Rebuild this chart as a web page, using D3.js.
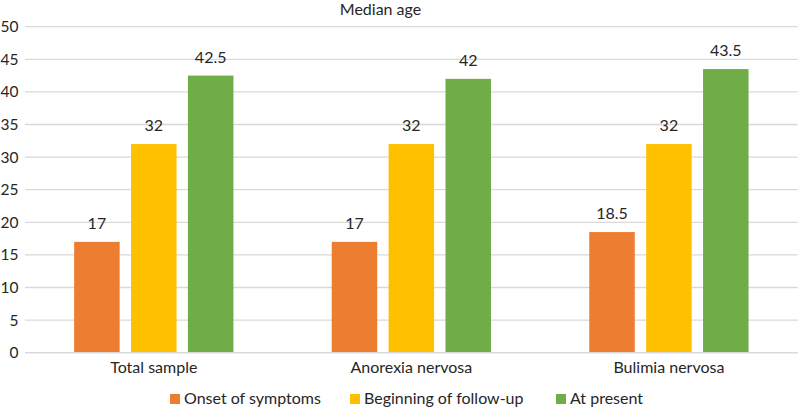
<!DOCTYPE html>
<html>
<head>
<meta charset="utf-8">
<script src="https://cdn.jsdelivr.net/npm/d3@7"></script>
<style>
  html, body { margin: 0; padding: 0; background: #fff; }
  svg { display: block; font-family: Lato, "Open Sans", sans-serif; }
</style>
</head>
<body>
<svg id="chart" width="800" height="409"></svg>
<script>
const categories = ["Total sample", "Anorexia nervosa", "Bulimia nervosa"];
const seriesNames = ["Onset of symptoms", "Beginning of follow-up", "At present"];
const onsetValues = [17, 17, 18.5];
const beginningValues = [32, 32, 32];
const presentValues = [42.5, 42, 43.5];
const yTicks = [0, 5, 10, 15, 20, 25, 30, 35, 40, 45, 50];
const colors = ["#ED7D31", "#FFC000", "#70AD47"];
const chartTitle = "Median age";

(function () {
const seriesValues = [onsetValues, beginningValues, presentValues];

const svg = d3.select("#chart");
const pLeft = 25, pRight = 797.7, pTop = 26.7, pBottom = 352.7;
const fs = 16;
const textColor = "#262626";

const x0 = d3.scaleBand().domain(categories).range([pLeft, pRight])
  .paddingInner(0.3816).paddingOuter(0.1908);
const x1 = d3.scaleBand().domain(seriesNames).range([0, x0.bandwidth()])
  .paddingInner(0.2).paddingOuter(0);
const y = d3.scaleLinear().domain([0, 50]).range([pBottom, pTop]);

// gridlines
svg.append("g").selectAll("line").data(yTicks).join("line")
  .attr("x1", pLeft).attr("x2", pRight)
  .attr("y1", d => y(d)).attr("y2", d => y(d))
  .attr("stroke", "#d9d9d9").attr("stroke-width", 1.3);

// y axis labels
const yAxis = d3.axisLeft(y).tickValues(yTicks).tickSize(0).tickPadding(0);
const yg = svg.append("g").attr("transform", `translate(18.5,0)`).call(yAxis);
yg.select(".domain").remove();
yg.selectAll("text").attr("font-size", 15.5).attr("fill", textColor)
  .attr("font-family", "Lato, 'Open Sans', sans-serif");

// bars
const groups = svg.append("g").selectAll("g").data(categories).join("g")
  .attr("transform", d => `translate(${x0(d)},0)`);

groups.each(function(cat, ci) {
  const g = d3.select(this);
  seriesNames.forEach((s, si) => {
    const v = seriesValues[si][ci];
    g.append("rect")
      .attr("x", x1(s)).attr("width", x1.bandwidth())
      .attr("y", y(v)).attr("height", y(0) - y(v))
      .attr("fill", colors[si]);
    g.append("text")
      .attr("x", x1(s) + x1.bandwidth() / 2)
      .attr("y", y(v) - 13)
      .attr("text-anchor", "middle")
      .attr("font-size", fs).attr("fill", textColor)
      .text(v);
  });
});

// x axis line
svg.append("line").attr("x1", pLeft).attr("x2", pRight)
  .attr("y1", y(0)).attr("y2", y(0))
  .attr("stroke", "#d9d9d9").attr("stroke-width", 1.3);

// x axis labels
const xAxis = d3.axisBottom(x0).tickSize(0).tickPadding(0);
const xg = svg.append("g").attr("transform", `translate(0,373)`).call(xAxis);
xg.select(".domain").remove();
xg.selectAll("text").attr("font-size", fs).attr("fill", textColor)
  .attr("dy", 0).attr("y", 0)
  .attr("font-family", "Lato, 'Open Sans', sans-serif");

// title
svg.append("text").attr("x", 380.5).attr("y", 15).attr("text-anchor", "middle")
  .attr("font-size", fs).attr("fill", textColor).text(chartTitle);

// legend
const legendX = [170, 350, 556];
const lg = svg.append("g").selectAll("g").data(seriesNames).join("g")
  .attr("transform", (d, i) => `translate(${legendX[i]},394)`);
lg.append("rect").attr("width", 10).attr("height", 10).attr("fill", (d, i) => colors[i]);
lg.append("text").attr("x", 14).attr("y", 10).attr("font-size", fs)
  .attr("fill", textColor).text(d => d);
})();
</script>
</body>
</html>
